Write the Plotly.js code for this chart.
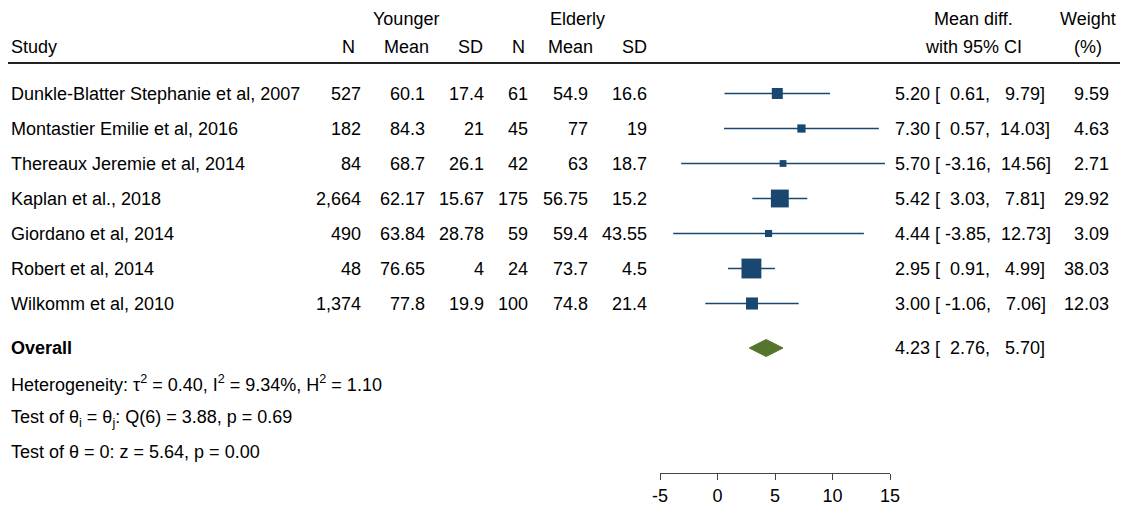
<!DOCTYPE html>
<html>
<head>
<meta charset="utf-8">
<script src="https://cdn.plot.ly/plotly-3.0.1.min.js"></script>
<style>html,body{margin:0;padding:0;background:#fff;}#chart{width:1127px;height:508px;}</style>
</head>
<body>
<div id="chart"></div>
<script>
// ---- data ----
const studies = [
  "Dunkle-Blatter Stephanie et al, 2007",
  "Montastier Emilie et al, 2016",
  "Thereaux Jeremie et al, 2014",
  "Kaplan et al., 2018",
  "Giordano et al, 2014",
  "Robert et al, 2014",
  "Wilkomm et al, 2010"
];
const nYounger = [527, 182, 84, 2664, 490, 48, 1374];
const meanYounger = [60.1, 84.3, 68.7, 62.17, 63.84, 76.65, 77.8];
const sdYounger = [17.4, 21, 26.1, 15.67, 28.78, 4, 19.9];
const nElderly = [61, 45, 42, 175, 59, 24, 100];
const meanElderly = [54.9, 77, 63, 56.75, 59.4, 73.7, 74.8];
const sdElderly = [16.6, 19, 18.7, 15.2, 43.55, 4.5, 21.4];
const meanDiff = [5.20, 7.30, 5.70, 5.42, 4.44, 2.95, 3.00];
const ciLower = [0.61, 0.57, -3.16, 3.03, -3.85, 0.91, -1.06];
const ciUpper = [9.79, 14.03, 14.56, 7.81, 12.73, 4.99, 7.06];
const weights = [9.59, 4.63, 2.71, 29.92, 3.09, 38.03, 12.03];
const overallMD = 4.23, overallLower = 2.76, overallUpper = 5.70;
const tau2 = 0.40, i2 = 9.34, h2 = 1.10;
const qStat = 3.88, qDf = 6, qP = 0.69;
const zStat = 5.64, zP = 0.00;
const xTicks = [-5, 0, 5, 10, 15];

// ---- layout helpers ----
const W = 1127, H = 508;
const FONT = "Liberation Sans, Arial, Helvetica, sans-serif";
const NAVY = "#1a476f", GREEN = "#55752f";
const rowY = i => 93.5 + 35 * i;
const overallY = 348;
const statY = [383, 418, 452];

function ann(text, xpx, ypx, anchor, extra) {
  return Object.assign({
    text: text, x: xpx / W, xref: "paper", y: ypx, yref: "y",
    xanchor: anchor, yanchor: "middle", showarrow: false, borderpad: 0,
    font: {family: FONT, size: 18, color: "#000"}
  }, extra || {});
}
const fmtN = v => v.toLocaleString("en-US");
const f2 = v => v.toFixed(2);
const NB = "\u00A0";
// Stata-like %6.2f padding with non-breaking spaces
const pad6 = v => { const s = f2(v); return NB.repeat(Math.max(0, 6 - s.length)) + s; };

const annotations = [];
// headers
annotations.push(ann("Younger", 406, 19, "center"));
annotations.push(ann("Elderly", 577, 19, "center"));
annotations.push(ann("Study", 10, 47, "left"));
annotations.push(ann("N", 348, 47, "center"));
annotations.push(ann("Mean", 406, 47, "center"));
annotations.push(ann("SD", 470, 47, "center"));
annotations.push(ann("N", 518, 47, "center"));
annotations.push(ann("Mean", 570, 47, "center"));
annotations.push(ann("SD", 634, 47, "center"));
annotations.push(ann("Mean diff.", 973, 19, "center"));
annotations.push(ann("with 95% CI", 973, 47, "center"));
annotations.push(ann("Weight", 1088, 19, "center"));
annotations.push(ann("(%)", 1088, 47, "center"));

function ciText(y, est, lo, hi) {
  const s = f2(est) + NB + "[" + pad6(lo) + "," + NB + pad6(hi) + "]";
  annotations.push(ann(s, 894, y, "left"));
}

studies.forEach((s, i) => {
  const y = rowY(i);
  annotations.push(ann(s, 10, y, "left"));
  annotations.push(ann(fmtN(nYounger[i]), 362, y, "right"));
  annotations.push(ann(String(meanYounger[i]), 426, y, "right"));
  annotations.push(ann(String(sdYounger[i]), 485, y, "right"));
  annotations.push(ann(fmtN(nElderly[i]), 529, y, "right"));
  annotations.push(ann(String(meanElderly[i]), 589, y, "right"));
  annotations.push(ann(String(sdElderly[i]), 648, y, "right"));
  ciText(y, meanDiff[i], ciLower[i], ciUpper[i]);
  annotations.push(ann(f2(weights[i]), 1110, y, "right"));
});

annotations.push(ann("<b>Overall</b>", 10, overallY, "left"));
ciText(overallY, overallMD, overallLower, overallUpper);
annotations.push(ann("Heterogeneity: τ<sup>2</sup> = " + f2(tau2) + ", I<sup>2</sup> = " + f2(i2) + "%, H<sup>2</sup> = " + f2(h2), 10, statY[0], "left"));
annotations.push(ann("Test of θ<sub>i</sub> = θ<sub>j</sub>: Q(" + qDf + ") = " + f2(qStat) + ", p = " + f2(qP), 10, statY[1], "left"));
annotations.push(ann("Test of θ = 0: z = " + f2(zStat) + ", p = " + f2(zP), 10, statY[2], "left"));

// ---- traces ----
const ciX = [], ciY = [];
studies.forEach((s, i) => { ciX.push(ciLower[i], ciUpper[i], null); ciY.push(rowY(i), rowY(i), null); });
const ciTrace = {x: ciX, y: ciY, mode: "lines", type: "scatter", line: {color: NAVY, width: 1.6}, hoverinfo: "skip", showlegend: false};
const ptTrace = {
  x: meanDiff, y: studies.map((s, i) => rowY(i)), mode: "markers", type: "scatter",
  marker: {symbol: "square", color: NAVY, opacity: 1, size: weights.map(w => 2.9 * Math.sqrt(w) + 2), line: {width: 0}},
  showlegend: false
};
const dh = 8.5;
const diamond = {
  x: [overallLower, overallMD, overallUpper, overallMD, overallLower],
  y: [overallY, overallY - dh, overallY, overallY + dh, overallY],
  mode: "lines", type: "scatter", fill: "toself", fillcolor: GREEN,
  line: {color: GREEN, width: 1}, showlegend: false
};

const layout = {
  width: W, height: H,
  margin: {l: 0, r: 0, t: 0, b: 0, pad: 0},
  paper_bgcolor: "#fff", plot_bgcolor: "rgba(0,0,0,0)",
  showlegend: false,
  xaxis: {
    domain: [660 / W, 890 / W], range: [-5, 15], anchor: "free", position: 1 - 473 / H,
    showline: true, linecolor: "#444", linewidth: 1, ticks: "outside", ticklen: 6, tickwidth: 1, tickcolor: "#444",
    tickvals: xTicks, ticktext: xTicks.map(String), showgrid: false, zeroline: false,
    tickfont: {family: FONT, size: 18, color: "#000"}, fixedrange: true
  },
  yaxis: {domain: [0, 1], range: [H, 0], visible: false, showgrid: false, zeroline: false, fixedrange: true},
  shapes: [{type: "line", xref: "paper", yref: "y", x0: 8 / W, x1: 1120 / W, y0: 63, y1: 63, line: {color: "#222", width: 2}}],
  annotations: annotations
};

Plotly.newPlot("chart", [ciTrace, diamond, ptTrace], layout, {staticPlot: true, displayModeBar: false});
</script>
</body>
</html>
